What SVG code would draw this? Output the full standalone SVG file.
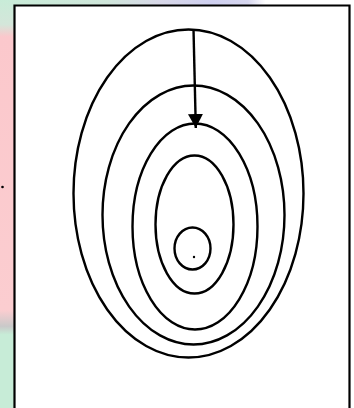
<svg xmlns="http://www.w3.org/2000/svg" width="354" height="408" viewBox="0 0 354 408">
<defs>
<style>
.c{fill:none;stroke:#000;stroke-width:2.4}
</style>
<marker id="ah" markerWidth="16" markerHeight="16" refX="14" refY="7.5" orient="auto" markerUnits="userSpaceOnUse" viewBox="0 0 16 16">
<path d="M0,0 L14,7.5 L0,15 Z" fill="#000"/>
</marker>
<linearGradient id="lg" x1="0" y1="0" x2="0" y2="1">
<stop offset="0" stop-color="#c8ecd8"/>
<stop offset="0.06" stop-color="#d4e6da"/>
<stop offset="0.09" stop-color="#fbc8cc"/>
<stop offset="0.76" stop-color="#fbcdd0"/>
<stop offset="0.8" stop-color="#c9c9c9"/>
<stop offset="0.82" stop-color="#c7ecd7"/>
<stop offset="1" stop-color="#c7ecd7"/>
</linearGradient>
<linearGradient id="tg" x1="0" y1="0" x2="1" y2="0">
<stop offset="0" stop-color="#c8ecd8"/>
<stop offset="0.3" stop-color="#cfe6da"/>
<stop offset="0.45" stop-color="#d8d8e8"/>
<stop offset="0.6" stop-color="#cfd0f0"/>
<stop offset="0.7" stop-color="#d6d6ee"/>
<stop offset="0.75" stop-color="#ffffff"/>
<stop offset="1" stop-color="#ffffff"/>
</linearGradient>
</defs>
<rect x="0" y="0" width="354" height="408" fill="#ffffff"/>
<rect x="0" y="0" width="354" height="6" fill="url(#tg)"/>
<rect x="0" y="0" width="14" height="408" fill="url(#lg)"/>
<circle cx="2.5" cy="187" r="1.3" fill="#000"/>
<g id="frame">
<path d="M14.5,408 V5.5 H349.5 V408" fill="#fff" stroke="#000" stroke-width="2.2"/>
</g>
<g id="e1"><ellipse class="c" cx="188.5" cy="193.5" rx="115" ry="164"/></g>
<g id="e2"><ellipse class="c" cx="193.5" cy="215" rx="91" ry="129.5"/></g>
<g id="e3"><ellipse class="c" cx="195" cy="226.5" rx="62.5" ry="103"/></g>
<g id="e4"><ellipse class="c" cx="194.5" cy="224.5" rx="39" ry="69"/></g>
<g id="e5"><ellipse class="c" cx="192.5" cy="248.5" rx="18" ry="21"/></g>
<g id="center"><circle cx="194" cy="257" r="1.2" fill="#000"/></g>
<g id="connectors">
<line x1="193.5" y1="29" x2="195.8" y2="128" stroke="#000" stroke-width="2.4" marker-end="url(#ah)"/>
</g>
</svg>
